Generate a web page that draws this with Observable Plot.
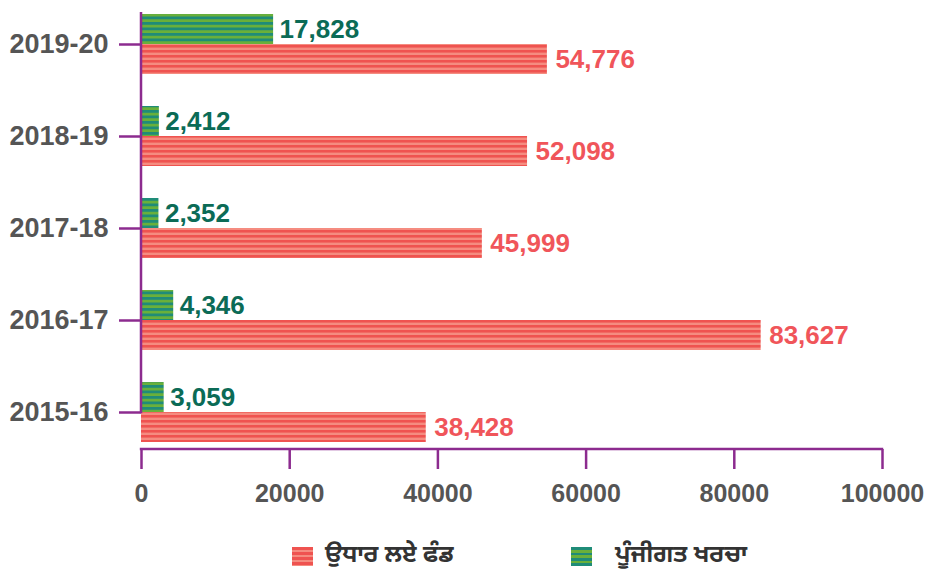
<!DOCTYPE html>
<html>
<head>
<meta charset="utf-8">
<script src="https://cdn.jsdelivr.net/npm/d3@7"></script>
<script src="https://cdn.jsdelivr.net/npm/@observablehq/plot@0.6"></script>
<style>
  html, body { margin: 0; padding: 0; background: #fff; }
  #wrap { position: relative; width: 926px; height: 572px; font-family: "Liberation Sans", Arial, sans-serif; }
  #legend { position: absolute; left: 0; top: 520px; width: 926px; height: 52px; }
  .item { position: absolute; top: 16px; display: flex; align-items: center; height: 40px; }
  .sw { width: 21px; height: 19px; margin-right: 12px; flex: none; }
  .lab { font-family: "Noto Sans Gurmukhi", "Lohit Gurmukhi", "Liberation Sans", sans-serif; font-weight: bold; font-size: 24px; line-height: 40px; color: #333; white-space: nowrap; }
</style>
</head>
<body>
<div id="wrap"><div id="chart"></div><div id="legend"></div></div>
<script>
const years = ["2019-20", "2018-19", "2017-18", "2016-17", "2015-16"];
const borrowed = [54776, 52098, 45999, 83627, 38428];
const capex = [17828, 2412, 2352, 4346, 3059];
const seriesNames = ["ਉਧਾਰ ਲਏ ਫੰਡ", "ਪੂੰਜੀਗਤ ਖਰਚਾ"];
const xTicks = [0, 20000, 40000, 60000, 80000, 100000];

const purple = "#8C2B8F";
const redDark = "#EF5350", redLight = "#F58C80";
const greenDark = "#1F8C78", greenLight = "#6AB03A";

const borrowedRows = years.map((y, i) => ({year: y, value: borrowed[i]}));
const capexRows = years.map((y, i) => ({year: y, value: capex[i]}));
const fmt = d3.format(",");

function defsMark() {
  const ns = "http://www.w3.org/2000/svg";
  const defs = document.createElementNS(ns, "defs");
  defs.innerHTML = `
    <pattern id="redStripes" patternUnits="userSpaceOnUse" width="10" height="5">
      <rect x="0" y="0" width="10" height="5" fill="${redDark}"/>
      <rect x="0" y="2.6" width="10" height="2.4" fill="${redLight}"/>
    </pattern>
    <pattern id="greenStripes" patternUnits="userSpaceOnUse" width="10" height="5.5">
      <rect x="0" y="0" width="10" height="5.5" fill="${greenDark}"/>
      <rect x="0" y="2.8" width="10" height="2.7" fill="${greenLight}"/>
    </pattern>`;
  return defs;
}

function axisLines(index, scales, values, dims) {
  const ns = "http://www.w3.org/2000/svg";
  const g = document.createElementNS(ns, "g");
  const x = scales.x, y = scales.y;
  const bw = (scales.scales && scales.scales.y && scales.scales.y.bandwidth) || (y.bandwidth ? y.bandwidth() : 60);
  const x0 = x(xTicks[0]), x1 = x(xTicks[xTicks.length - 1]);
  const yTop = y(years[0]) - 2;
  const yLast = y(years[years.length - 1]) + bw / 2;
  const yBot = dims.height - dims.marginBottom;
  const v = document.createElementNS(ns, "line");
  v.setAttribute("x1", x0); v.setAttribute("x2", x0);
  v.setAttribute("y1", yTop); v.setAttribute("y2", yLast + 1.2);
  v.setAttribute("stroke", purple); v.setAttribute("stroke-width", 2.5);
  g.appendChild(v);
  const h = document.createElementNS(ns, "line");
  h.setAttribute("x1", x0 - 1.2); h.setAttribute("x2", x1 + 1.2);
  h.setAttribute("y1", yBot); h.setAttribute("y2", yBot);
  h.setAttribute("stroke", purple); h.setAttribute("stroke-width", 2.5);
  g.appendChild(h);
  return g;
}

const chart = Plot.plot({
  width: 926,
  height: 520,
  marginTop: 7,
  marginBottom: 71,
  marginLeft: 141,
  marginRight: 44,
  style: {fontFamily: "'Liberation Sans', Arial, sans-serif", background: "transparent", overflow: "visible"},
  x: {domain: [0, 100000]},
  y: {domain: years, paddingInner: 0.35, paddingOuter: 0.076},
  marks: [
    defsMark,
    Plot.barX(borrowedRows, {x: "value", y: "year", insetTop: 30, fill: "url(#redStripes)"}),
    Plot.barX(capexRows, {x: "value", y: "year", insetBottom: 30, fill: "url(#greenStripes)"}),
    Plot.text(capexRows, {x: "value", y: "year", text: d => fmt(d.value), dy: -15, dx: 6, textAnchor: "start", fill: "#0B6B56", fontSize: 26, fontWeight: "bold"}),
    Plot.text(borrowedRows, {x: "value", y: "year", text: d => fmt(d.value), dy: 15, dx: 8, textAnchor: "start", fill: "#F0555A", fontSize: 26, fontWeight: "bold"}),
    axisLines,
    Plot.axisY({tickSize: 22, tickPadding: 11, fontSize: 27, fontWeight: "bold", fill: "#555", stroke: purple, strokeWidth: 2.5, label: null}),
    Plot.axisX({ticks: xTicks, tickFormat: d => String(d), tickSize: 20, tickPadding: 15, fontSize: 25, fontWeight: "bold", fill: "#555", stroke: purple, strokeWidth: 2.5, label: null})
  ]
});
document.getElementById("chart").appendChild(chart);

const legend = document.getElementById("legend");
const legendItems = [
  {name: seriesNames[0], fill: `repeating-linear-gradient(to bottom, ${redDark} 0 2.6px, ${redLight} 2.6px 5px)`, left: 292, gap: 12},
  {name: seriesNames[1], fill: `repeating-linear-gradient(to bottom, ${greenDark} 0 2.8px, ${greenLight} 2.8px 5.5px)`, left: 571, gap: 23}
];
legendItems.forEach((it) => {
  const d = document.createElement("div");
  d.className = "item";
  d.style.left = it.left + "px";
  const sw = document.createElement("div");
  sw.className = "sw";
  sw.style.background = it.fill;
  sw.style.marginRight = it.gap + "px";
  const t = document.createElement("span");
  t.className = "lab";
  t.textContent = it.name;
  d.appendChild(sw); d.appendChild(t);
  legend.appendChild(d);
});
</script>
</body>
</html>
